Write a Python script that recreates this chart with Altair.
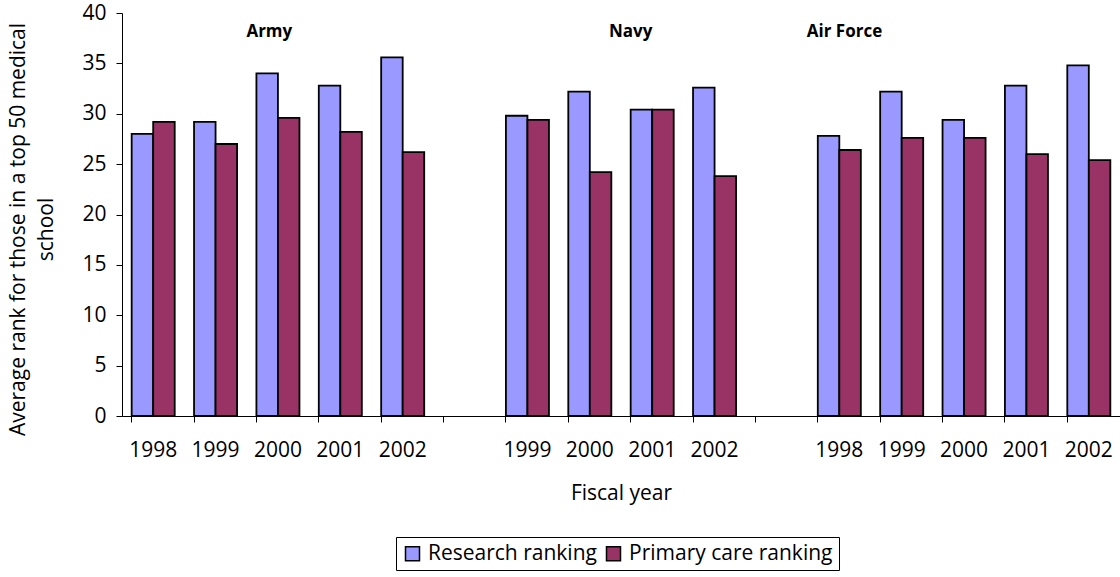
import altair as alt
import pandas as pd

# Average rank of students at top-50 medical schools, by service and fiscal year
series_names = ["Research ranking", "Primary care ranking"]
series_colors = ["#9999FF", "#993366"]

army_years = ["1998", "1999", "2000", "2001", "2002"]
army_research = [28.0, 29.2, 34.0, 32.8, 35.6]
army_primary = [29.2, 27.0, 29.6, 28.2, 26.2]

navy_years = ["1999", "2000", "2001", "2002"]
navy_research = [29.8, 32.2, 30.4, 32.6]
navy_primary = [29.4, 24.2, 30.4, 23.8]

af_years = ["1998", "1999", "2000", "2001", "2002"]
af_research = [27.8, 32.2, 29.4, 32.8, 34.8]
af_primary = [26.4, 27.6, 27.6, 26.0, 25.4]

groups = [
    ("Army", army_years, army_research, army_primary),
    ("Navy", navy_years, navy_research, navy_primary),
    ("Air Force", af_years, af_research, af_primary),
]

# Build the category slots (with an empty slot between services) and long table
slots = []
rows = []
for i, (svc, yrs, res, pri) in enumerate(groups):
    for y, r, p in zip(yrs, res, pri):
        key = f"{svc} {y}"
        slots.append(key)
        rows.append({"slot": key, "series": series_names[0], "value": r})
        rows.append({"slot": key, "series": series_names[1], "value": p})
    if i < len(groups) - 1:
        slots.append(f"gap{i}")
df = pd.DataFrame(rows)
slot_df = pd.DataFrame({"slot": slots})

FONT = "Open Sans"

x_scale = alt.Scale(domain=slots, paddingInner=0.31, paddingOuter=0.155)

bars = alt.Chart(df).mark_bar(stroke="black", strokeWidth=1.8).encode(
    x=alt.X(
        "slot:N",
        scale=x_scale,
        sort=slots,
        axis=alt.Axis(
            orient="bottom",
            title="Fiscal year",
            labelExpr="indexof(datum.label, 'gap') == 0 ? '' : slice(datum.label, -4)",
            labelAngle=0,
            labelPadding=23,
            labelBaseline="top",
            ticks=False,
            domain=True,
            domainColor="black",
            titleY=66,
            titleBaseline="top",
        ),
    ),
    xOffset=alt.XOffset("series:N", sort=series_names, scale=alt.Scale(paddingInner=0, paddingOuter=0)),
    y=alt.Y(
        "value:Q",
        scale=alt.Scale(domain=[0, 40]),
        axis=alt.Axis(
            values=list(range(0, 41, 5)),
            title=["Average rank for those in a top 50 medical", "school"],
            titleX=-98,
            titleY=216,
            titleAngle=-90,
            titleAlign="center",
            titleBaseline="alphabetic",
            titleLineHeight=28,
            titleFontSize=21,
            tickSize=6,
            tickColor="black",
            domainColor="black",
            labelPadding=10,
            grid=False,
        ),
    ),
    color=alt.Color(
        "series:N",
        sort=series_names,
        scale=alt.Scale(domain=series_names, range=series_colors),
        legend=alt.Legend(
            title=None,
            orient="none",
            legendX=274,
            legendY=524,
            direction="horizontal",
            symbolType="square",
            symbolSize=196,
            symbolStrokeColor="black",
            symbolStrokeWidth=1.5,
            symbolOpacity=1,
            labelFontSize=21,
            labelFont=FONT,
            labelColor="black",
            labelLimit=0,
            labelOffset=5,
            columnPadding=6,
            padding=6,
            strokeColor="black",
            fillColor="white",
        ),
    ),
)

# Tick marks sitting on the boundaries between category slots
slot_ticks = alt.Chart(slot_df).mark_point(opacity=0).encode(
    x=alt.X(
        "slot:N",
        scale=x_scale,
        sort=slots,
        axis=alt.Axis(
            orient="bottom",
            bandPosition=0,
            labels=False,
            ticks=True,
            tickSize=6,
            tickColor="black",
            domain=False,
            title=None,
        ),
    ),
)

# Service names above each group of bars
label_layers = []
for name, anchor, frac in [("Army", "Army 2000", 0.30), ("Navy", "Navy 2001", 0.0), ("Air Force", "Air Force 1998", 0.62)]:
    label_layers.append(
        alt.Chart(pd.DataFrame({"slot": [anchor], "name": [name]}))
        .mark_text(font=FONT, fontSize=17, fontWeight="bold", color="black", baseline="middle")
        .encode(
            x=alt.X("slot:N", scale=x_scale, sort=slots, bandPosition=frac, axis=None),
            y=alt.value(19),
            text="name:N",
        )
    )

chart = (
    alt.layer(bars, slot_ticks, *label_layers)
    .resolve_axis(x="independent")
    .properties(
        width=998,
        height=403,
        autosize=alt.AutoSizeParams(type="none"),
        padding={"left": 122, "top": 13, "right": 0, "bottom": 161},
    )
    .configure_view(stroke=None)
    .configure_axis(
        labelFont=FONT,
        labelFontSize=21,
        labelColor="black",
        titleFont=FONT,
        titleFontSize=21,
        titleFontWeight="normal",
        titleColor="black",
    )
)

chart.save("out.html", embed_options={"renderer": "svg", "actions": False})
